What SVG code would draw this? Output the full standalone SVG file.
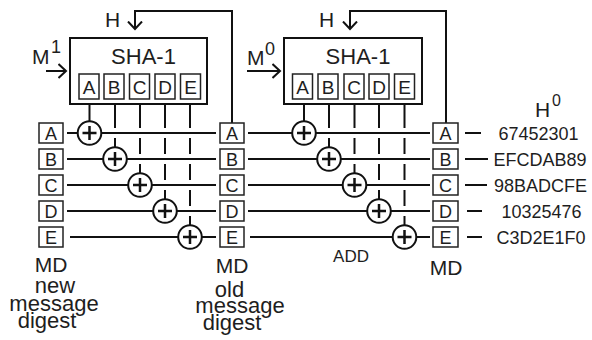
<svg xmlns="http://www.w3.org/2000/svg" width="592" height="340" viewBox="0 0 592 340">
<defs>
<style>
text { font-family: "Liberation Sans", Arial, Helvetica, sans-serif; fill: #1e1e1e; }
.box { fill: #fff; stroke: #111; stroke-width: 2; }
.reg { fill: #fff; stroke: #222; stroke-width: 1.5; }
.rt { font-size: 18px; text-anchor: middle; }
.it { font-size: 19px; text-anchor: middle; }
.ln { stroke: #111; stroke-width: 2; fill: none; }
.add circle { fill: #fff; stroke: #111; stroke-width: 2; }
.add path { stroke: #111; stroke-width: 2.5; fill: none; }
.lbl { font-size: 21px; }
.sup { font-size: 18px; }
.md { font-size: 21px; text-anchor: middle; }
.cap { font-size: 22px; text-anchor: middle; }
.hex { font-size: 18px; text-anchor: middle; }
</style>
<marker id="v" viewBox="0 0 10 16" refX="8.5" refY="8" markerWidth="10" markerHeight="16" markerUnits="userSpaceOnUse" orient="auto">
<path d="M1,1 L8.5,8 L1,15" fill="none" stroke="#111" stroke-width="2"/>
</marker>
</defs>
<rect width="592" height="340" fill="#fff"/>

<g id="connectors" class="ln">
<!-- feedback H lines -->
<path d="M232,123 V11 H135 V29" marker-end="url(#v)"/>
<path d="M446,124 V11 H350 V29" marker-end="url(#v)"/>
<!-- message inputs -->
<path d="M46,71 H66" marker-end="url(#v)"/>
<path d="M247,71 H280" marker-end="url(#v)"/>
<!-- left rows -->
<path d="M67,133 H216 M67,159 H216 M67,185 H216 M67,211 H216 M70,237 H216"/>
<!-- middle rows -->
<path d="M248,133 H430 M248,159 H430 M248,185 H430 M248,211 H430 M250,237 H430"/>
<!-- right dashes -->
<path d="M465,133 H481 M465,159 H488 M465,185 H487 M467,211 H482 M467,237 H482"/>
<!-- left verticals -->
<path d="M89.5,104 V121"/>
<path d="M115,104 V128 M115,138 V147"/>
<path d="M140,104 V128 M140,138 V154 M140,164 V173"/>
<path d="M165,104 V128 M165,138 V154 M165,164 V180 M165,190 V199"/>
<path d="M190,104 V128 M190,138 V154 M190,164 V180 M190,190 V206 M190,216 V225"/>
<!-- right verticals -->
<path d="M304,104 V121"/>
<path d="M329,104 V128 M329,138 V147"/>
<path d="M354.5,104 V128 M354.5,138 V154 M354.5,164 V173"/>
<path d="M379,104 V128 M379,138 V154 M379,164 V180 M379,190 V199"/>
<path d="M404.5,104 V128 M404.5,138 V154 M404.5,164 V180 M404.5,190 V206 M404.5,216 V225"/>
</g>

<g id="sha1-left">
<rect class="box" x="70" y="38" width="137" height="66"/>
<text x="143.5" y="64" class="cap">SHA-1</text>
<rect class="reg" x="79" y="74" width="20" height="25"/><text class="it" x="89" y="94">A</text>
<rect class="reg" x="104" y="74" width="20" height="25"/><text class="it" x="114" y="94">B</text>
<rect class="reg" x="129.5" y="74" width="20" height="25"/><text class="it" x="139.5" y="94">C</text>
<rect class="reg" x="155" y="74" width="20" height="25"/><text class="it" x="165" y="94">D</text>
<rect class="reg" x="180.5" y="74" width="20" height="25"/><text class="it" x="190.5" y="94">E</text>
</g>

<g id="sha1-right">
<rect class="box" x="284" y="38" width="138" height="66"/>
<text x="358" y="64" class="cap">SHA-1</text>
<rect class="reg" x="292.5" y="74" width="20" height="25"/><text class="it" x="302.5" y="94">A</text>
<rect class="reg" x="318" y="74" width="20" height="25"/><text class="it" x="328" y="94">B</text>
<rect class="reg" x="344" y="74" width="20" height="25"/><text class="it" x="354" y="94">C</text>
<rect class="reg" x="369" y="74" width="20" height="25"/><text class="it" x="379" y="94">D</text>
<rect class="reg" x="394.5" y="74" width="20" height="25"/><text class="it" x="404.5" y="94">E</text>
</g>

<g id="md-new">
<rect class="reg" x="39" y="123" width="24" height="20"/><text class="rt" x="51" y="139.5">A</text>
<rect class="reg" x="39" y="149" width="24" height="20"/><text class="rt" x="51" y="165.5">B</text>
<rect class="reg" x="39" y="175" width="24" height="20"/><text class="rt" x="51" y="191.5">C</text>
<rect class="reg" x="39" y="201" width="24" height="20"/><text class="rt" x="51" y="217.5">D</text>
<rect class="reg" x="39" y="227" width="24" height="20"/><text class="rt" x="51" y="243.5">E</text>
</g>

<g id="md-old">
<rect class="reg" x="220" y="123" width="24" height="20"/><text class="rt" x="232" y="139.5">A</text>
<rect class="reg" x="220" y="149" width="24" height="20"/><text class="rt" x="232" y="165.5">B</text>
<rect class="reg" x="220" y="175" width="24" height="20"/><text class="rt" x="232" y="191.5">C</text>
<rect class="reg" x="220" y="201" width="24" height="20"/><text class="rt" x="232" y="217.5">D</text>
<rect class="reg" x="220" y="227" width="24" height="20"/><text class="rt" x="232" y="243.5">E</text>
</g>

<g id="md-init">
<rect class="reg" x="433" y="123" width="25" height="20"/><text class="rt" x="445.5" y="139.5">A</text>
<rect class="reg" x="433" y="149" width="25" height="20"/><text class="rt" x="445.5" y="165.5">B</text>
<rect class="reg" x="433" y="175" width="25" height="20"/><text class="rt" x="445.5" y="191.5">C</text>
<rect class="reg" x="433" y="201" width="25" height="20"/><text class="rt" x="445.5" y="217.5">D</text>
<rect class="reg" x="433" y="227" width="25" height="20"/><text class="rt" x="445.5" y="243.5">E</text>
</g>

<g id="adders-left" class="add">
<circle cx="89.5" cy="133" r="11.8"/><path d="M82.5,133 H96.5 M89.5,126 V140"/>
<circle cx="115" cy="159" r="11.8"/><path d="M108,159 H122 M115,152 V166"/>
<circle cx="140" cy="185" r="11.8"/><path d="M133,185 H147 M140,178 V192"/>
<circle cx="165" cy="211" r="11.8"/><path d="M158,211 H172 M165,204 V218"/>
<circle cx="190" cy="237" r="11.8"/><path d="M183,237 H197 M190,230 V244"/>
</g>

<g id="adders-right" class="add">
<circle cx="304" cy="133" r="11.8"/><path d="M297,133 H311 M304,126 V140"/>
<circle cx="329" cy="159" r="11.8"/><path d="M322,159 H336 M329,152 V166"/>
<circle cx="354.5" cy="185" r="11.8"/><path d="M347.5,185 H361.5 M354.5,178 V192"/>
<circle cx="379" cy="211" r="11.8"/><path d="M372,211 H386 M379,204 V218"/>
<circle cx="404.5" cy="237" r="11.8"/><path d="M397.5,237 H411.5 M404.5,230 V244"/>
</g>

<g id="labels">
<text class="lbl" x="105" y="27">H</text>
<text class="lbl" x="319" y="27">H</text>
<text class="lbl" x="32" y="64">M</text><text class="sup" x="51" y="53">1</text>
<text class="lbl" x="247" y="65">M</text><text class="sup" x="265" y="55">0</text>
<text class="lbl" x="535" y="117">H</text><text style="font-size:16px" x="552" y="106">0</text>
<text class="hex" x="538.5" y="140">67452301</text>
<text class="hex" x="540" y="166">EFCDAB89</text>
<text class="hex" x="540.5" y="192">98BADCFE</text>
<text class="hex" x="541.5" y="218">10325476</text>
<text class="hex" x="541" y="244">C3D2E1F0</text>
<text class="md" x="51" y="272">MD</text>
<text class="md" x="232" y="273">MD</text>
<text class="md" x="446" y="275">MD</text>
<text style="font-size:17px;text-anchor:middle" x="351" y="262">ADD</text>
<text class="cap" x="55" y="293">new</text>
<text class="cap" x="54" y="311">message</text>
<text class="cap" x="47" y="328">digest</text>
<text class="cap" x="229.5" y="297">old</text>
<text class="cap" x="240" y="313">message</text>
<text class="cap" x="232" y="330">digest</text>
</g>
</svg>
